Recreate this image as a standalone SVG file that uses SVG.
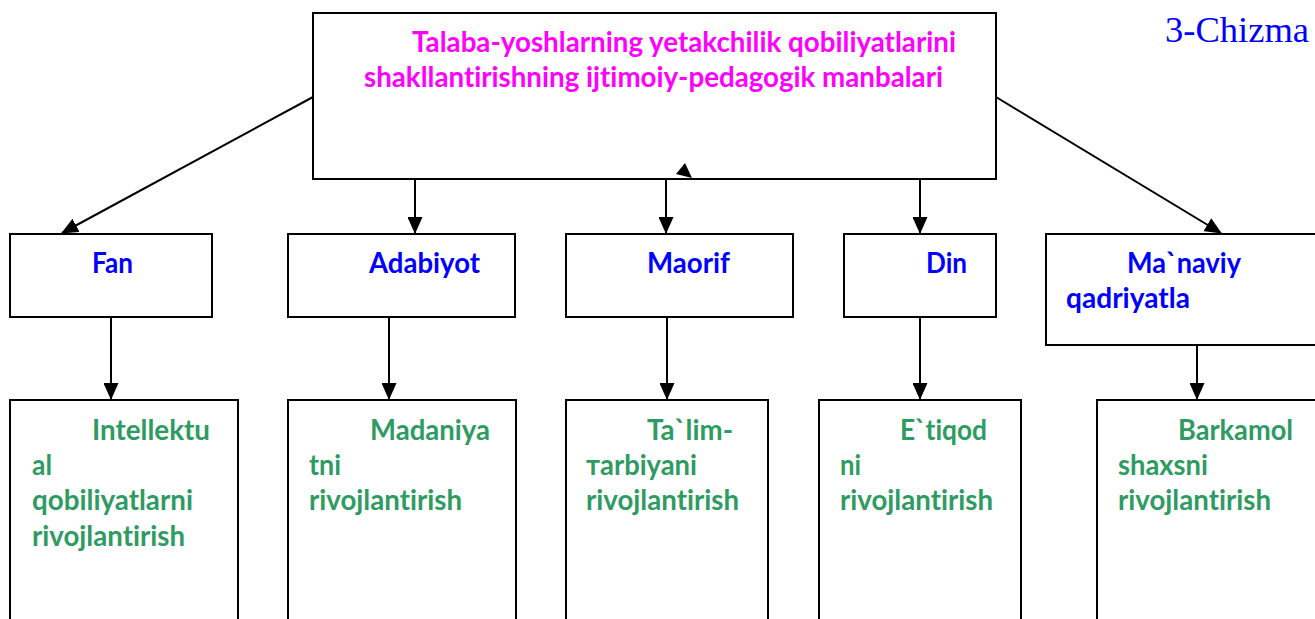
<svg xmlns="http://www.w3.org/2000/svg" width="1315" height="619" viewBox="0 0 1315 619">
  <style>
    .box { fill: #ffffff; stroke: #000000; stroke-width: 2; }
    .t { font-family: Lato, "Open Sans", "Liberation Sans", sans-serif; font-weight: bold; font-size: 28px; font-variant-ligatures: none; }
    .title { fill: #ff00ff; }
    .src { fill: #0000ff; }
    .res { fill: #2e9b62; }
    .link { stroke: #000000; stroke-width: 2; fill: none; marker-end: url(#arrow); }
    .caption { font-family: "Liberation Serif", "Times New Roman", serif; font-size: 36px; fill: #0000ff; }
  </style>
  <defs>
    <marker id="arrow" markerUnits="userSpaceOnUse" markerWidth="17" markerHeight="15" viewBox="0 0 17 15" refX="16" refY="7.5" orient="auto">
      <path d="M0,0 L17,7.5 L0,15 Z" fill="#000000"/>
    </marker>
  </defs>

  <rect width="1315" height="619" fill="#ffffff"/>

  <text class="caption" x="1165" y="42" textLength="144" lengthAdjust="spacingAndGlyphs">3-Chizma</text>

  <!-- connectors -->
  <g id="connectors">
    <line class="link" x1="313" y1="97" x2="62" y2="233"/>
    <line class="link" x1="996" y1="97" x2="1221" y2="233"/>
    <line class="link" x1="415" y1="180" x2="415" y2="233"/>
    <line class="link" x1="666" y1="180" x2="666" y2="233"/>
    <line class="link" x1="920" y1="180" x2="920" y2="233"/>
    <line class="link" x1="111" y1="318" x2="111" y2="399"/>
    <line class="link" x1="389" y1="318" x2="389" y2="399"/>
    <line class="link" x1="667" y1="318" x2="667" y2="399"/>
    <line class="link" x1="920" y1="318" x2="920" y2="399"/>
    <line class="link" x1="1197" y1="346" x2="1197" y2="399"/>
  </g>

  <!-- main source box -->
  <g id="main">
    <rect class="box" x="313" y="13" width="683" height="166"/>
    <text class="t title" x="412" y="52" textLength="544" lengthAdjust="spacingAndGlyphs">Talaba-yoshlarning yetakchilik qobiliyatlarini</text>
    <text class="t title" x="364" y="87" textLength="579" lengthAdjust="spacingAndGlyphs">shakllantirishning ijtimoiy-pedagogik manbalari</text>
    <!-- loose arrowhead on the bottom edge -->
    <path d="M685,163 L692,178 L676,174 Z" fill="#000000"/>
  </g>

  <!-- sources -->
  <g id="fan">
    <rect class="box" x="10" y="234" width="202" height="83"/>
    <text class="t src" x="92" y="273" textLength="41" lengthAdjust="spacingAndGlyphs">Fan</text>
  </g>
  <g id="adabiyot">
    <rect class="box" x="288" y="234" width="227" height="83"/>
    <text class="t src" x="369" y="273" textLength="111" lengthAdjust="spacingAndGlyphs">Adabiyot</text>
  </g>
  <g id="maorif">
    <rect class="box" x="566" y="234" width="227" height="83"/>
    <text class="t src" x="647" y="273" textLength="83" lengthAdjust="spacingAndGlyphs">Maorif</text>
  </g>
  <g id="din">
    <rect class="box" x="844" y="234" width="152" height="83"/>
    <text class="t src" x="926" y="273" textLength="41" lengthAdjust="spacingAndGlyphs">Din</text>
  </g>
  <g id="manaviy">
    <rect class="box" x="1046" y="234" width="280" height="111"/>
    <text class="t src" x="1127" y="273" textLength="114" lengthAdjust="spacingAndGlyphs">Ma`naviy</text>
    <text class="t src" x="1066" y="308" textLength="124" lengthAdjust="spacingAndGlyphs">qadriyatla</text>
  </g>

  <!-- outcomes -->
  <g id="intellektual">
    <rect class="box" x="10" y="400" width="228" height="230"/>
    <text class="t res" x="92" y="440" textLength="118" lengthAdjust="spacingAndGlyphs">Intellektu</text>
    <text class="t res" x="32" y="475" textLength="20" lengthAdjust="spacingAndGlyphs">al</text>
    <text class="t res" x="32" y="510" textLength="161" lengthAdjust="spacingAndGlyphs">qobiliyatlarni</text>
    <text class="t res" x="32" y="546" textLength="153" lengthAdjust="spacingAndGlyphs">rivojlantirish</text>
  </g>
  <g id="madaniyat">
    <rect class="box" x="288" y="400" width="228" height="230"/>
    <text class="t res" x="370" y="440" textLength="120" lengthAdjust="spacingAndGlyphs">Madaniya</text>
    <text class="t res" x="309" y="475" textLength="32" lengthAdjust="spacingAndGlyphs">tni</text>
    <text class="t res" x="309" y="510" textLength="153" lengthAdjust="spacingAndGlyphs">rivojlantirish</text>
  </g>
  <g id="talim">
    <rect class="box" x="566" y="400" width="202" height="230"/>
    <text class="t res" x="647" y="440" textLength="86" lengthAdjust="spacingAndGlyphs">Ta`lim-</text>
    <text class="t res" x="586" y="475" textLength="111" lengthAdjust="spacingAndGlyphs">тarbiyani</text>
    <text class="t res" x="586" y="510" textLength="153" lengthAdjust="spacingAndGlyphs">rivojlantirish</text>
  </g>
  <g id="etiqod">
    <rect class="box" x="819" y="400" width="202" height="230"/>
    <text class="t res" x="900" y="440" textLength="87" lengthAdjust="spacingAndGlyphs">E`tiqod</text>
    <text class="t res" x="840" y="475" textLength="21" lengthAdjust="spacingAndGlyphs">ni</text>
    <text class="t res" x="840" y="510" textLength="153" lengthAdjust="spacingAndGlyphs">rivojlantirish</text>
  </g>
  <g id="barkamol">
    <rect class="box" x="1097" y="400" width="230" height="230"/>
    <text class="t res" x="1178" y="440" textLength="115" lengthAdjust="spacingAndGlyphs">Barkamol</text>
    <text class="t res" x="1118" y="475" textLength="90" lengthAdjust="spacingAndGlyphs">shaxsni</text>
    <text class="t res" x="1118" y="510" textLength="153" lengthAdjust="spacingAndGlyphs">rivojlantirish</text>
  </g>
</svg>
